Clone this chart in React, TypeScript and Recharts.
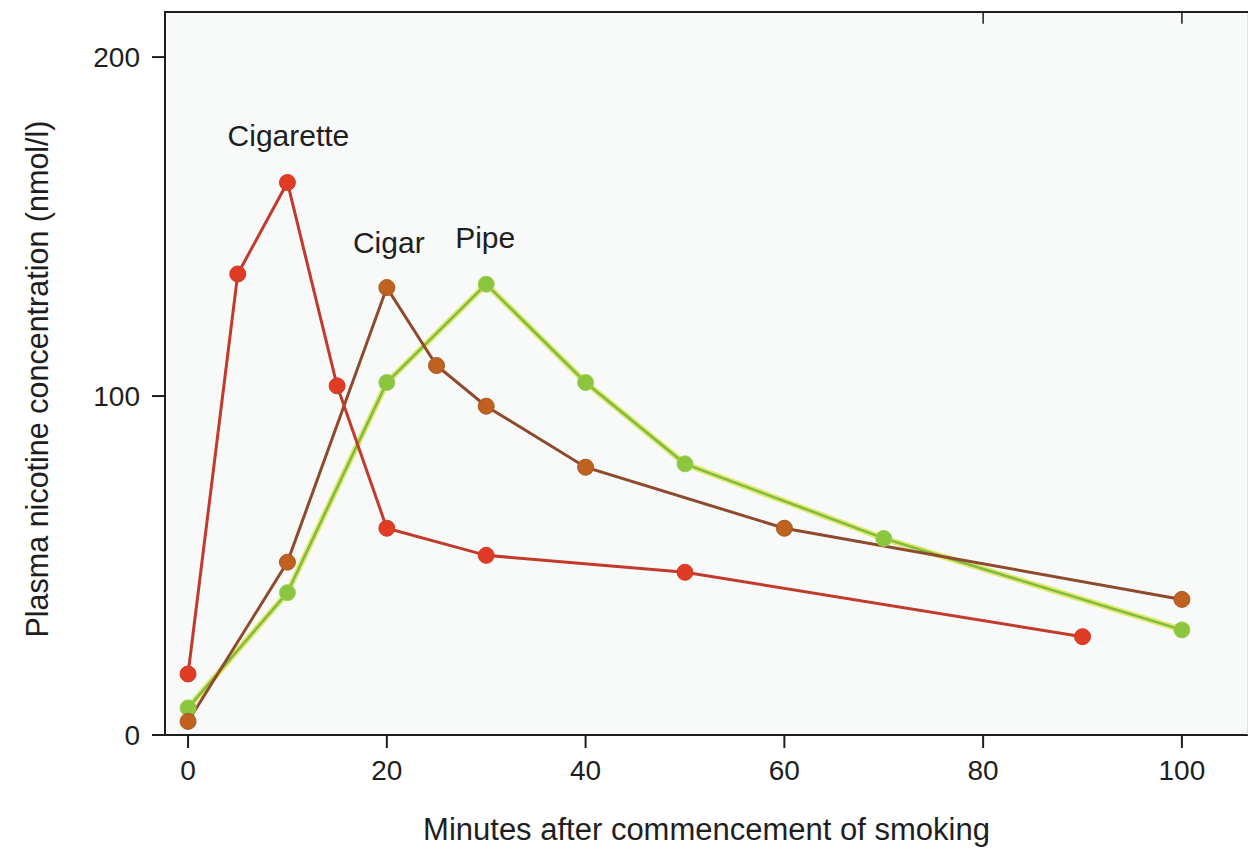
import React from "react";
import {
  LineChart,
  Line,
  XAxis,
  YAxis,
  CartesianGrid,
  ReferenceDot,
  ReferenceLine,
  Label,
} from "recharts";

// minutes after start vs plasma nicotine (nmol/l)
const cigarette = [
  { min: 0, conc: 18 },
  { min: 5, conc: 136 },
  { min: 10, conc: 163 },
  { min: 15, conc: 103 },
  { min: 20, conc: 61 },
  { min: 30, conc: 53 },
  { min: 50, conc: 48 },
  { min: 90, conc: 29 },
];

const cigar = [
  { min: 0, conc: 4 },
  { min: 10, conc: 51 },
  { min: 20, conc: 132 },
  { min: 25, conc: 109 },
  { min: 30, conc: 97 },
  { min: 40, conc: 79 },
  { min: 60, conc: 61 },
  { min: 100, conc: 40 },
];

const pipe = [
  { min: 0, conc: 8 },
  { min: 10, conc: 42 },
  { min: 20, conc: 104 },
  { min: 30, conc: 133 },
  { min: 40, conc: 104 },
  { min: 50, conc: 80 },
  { min: 70, conc: 58 },
  { min: 100, conc: 31 },
];

const xTicks = [0, 20, 40, 60, 80, 100];
const yTicks = [0, 100, 200];
const xDomain = [-2.32, 106.65];
const yMax = 213.3;

// where the series names sit, in data units
const seriesLabels = [
  { name: "Cigarette", min: 10.1, conc: 177 },
  { name: "Cigar", min: 20.2, conc: 145.4 },
  { name: "Pipe", min: 29.9, conc: 146.9 },
];

const FONT = "'Liberation Sans', Arial, Helvetica, sans-serif";
const INK = "#1e1e1e";
const LEFT_W = 165;

// top frame line, drawn from the right axis' own box
const TopFrame = (props: any) => {
  const vb = props.viewBox || {};
  const top = vb.y ?? 12;
  const right = (vb.x ?? 1247) + (vb.width ?? 1);
  return (
    <line
      x1={LEFT_W - 1}
      y1={top}
      x2={right}
      y2={top}
      stroke={INK}
      strokeWidth={2}
    />
  );
};

const App = () => {
  return (
    <div style={{ position: "absolute", left: 0, top: 0, background: "#fff" }}>
      <LineChart
        width={1248}
        height={848}
        margin={{ top: 12, right: 0, left: 0, bottom: 0 }}
        style={{ fontFamily: FONT }}
      >
        <CartesianGrid fill="#f8f9f9" horizontal={false} vertical={false} />
        <XAxis
          type="number"
          dataKey="min"
          domain={xDomain}
          ticks={xTicks}
          allowDataOverflow
          height={113}
          tickSize={13}
          tickMargin={12}
          stroke={INK}
          strokeWidth={2}
          tick={{ fill: INK, fontSize: 28 }}
        >
          <Label
            value="Minutes after commencement of smoking"
            position="insideBottom"
            offset={8}
            style={{ fill: INK, fontSize: 31 }}
          />
        </XAxis>
        <YAxis
          type="number"
          domain={[0, yMax]}
          ticks={yTicks}
          allowDataOverflow
          width={LEFT_W}
          tickSize={13}
          tickMargin={12}
          stroke={INK}
          strokeWidth={2}
          tick={{ fill: INK, fontSize: 28 }}
        >
          <Label
            content={() => (
              <text
                x={37}
                y={379}
                transform="rotate(-90 37 379)"
                textAnchor="middle"
                dominantBaseline="central"
                fill={INK}
                fontSize={30.5}
                fontFamily={FONT}
              >
                Plasma nicotine concentration (nmol/l)
              </text>
            )}
          />
        </YAxis>
        <YAxis
          yAxisId="right"
          orientation="right"
          type="number"
          domain={[0, yMax]}
          ticks={[100, 200]}
          allowDataOverflow
          width={1}
          mirror
          tick={false}
          tickSize={8}
          stroke="#c9cccc"
          strokeWidth={1}
        >
          <Label content={TopFrame} />
        </YAxis>

        {/* two small ticks hanging from the top frame */}
        {[80, 100].map((t) => (
          <ReferenceLine
            key={t}
            segment={[
              { x: t, y: yMax },
              { x: t, y: yMax - 3.5 },
            ]}
            stroke={INK}
            strokeWidth={1.5}
            ifOverflow="visible"
          />
        ))}

        <Line
          data={pipe}
          dataKey="conc"
          stroke="#dfe86a"
          strokeWidth={6}
          dot={false}
          activeDot={false}
          isAnimationActive={false}
        />
        <Line
          data={pipe}
          dataKey="conc"
          stroke="#7fba45"
          strokeWidth={2.5}
          dot={{ r: 8, fill: "#8cc63e", stroke: "#9ccf55", strokeWidth: 1 }}
          activeDot={false}
          isAnimationActive={false}
        />
        <Line
          data={cigar}
          dataKey="conc"
          stroke="#8e4a2c"
          strokeWidth={3}
          dot={{ r: 8, fill: "#bf611f", stroke: "#a8551f", strokeWidth: 1 }}
          activeDot={false}
          isAnimationActive={false}
        />
        <Line
          data={cigarette}
          dataKey="conc"
          stroke="#c23a2b"
          strokeWidth={3}
          dot={{ r: 8, fill: "#e03c25", stroke: "#d23a22", strokeWidth: 1 }}
          activeDot={false}
          isAnimationActive={false}
        />

        {seriesLabels.map((s) => (
          <ReferenceDot
            key={s.name}
            x={s.min}
            y={s.conc}
            r={0}
            stroke="none"
            fill="none"
            label={{
              value: s.name,
              position: "center",
              fill: INK,
              fontSize: 30,
              fontFamily: FONT,
            }}
          />
        ))}
      </LineChart>
    </div>
  );
};

export default App;
